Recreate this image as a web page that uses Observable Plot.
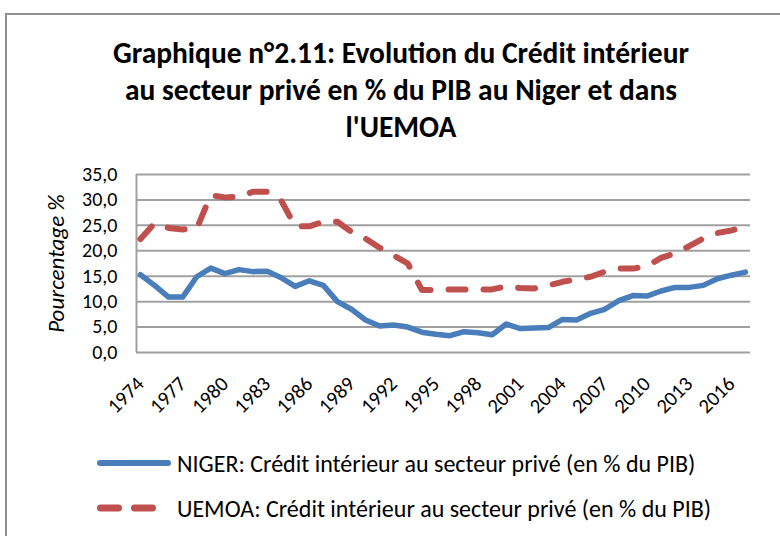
<!DOCTYPE html>
<html>
<head>
<meta charset="utf-8">
<script src="https://cdn.jsdelivr.net/npm/d3@7"></script>
<script src="https://cdn.jsdelivr.net/npm/@observablehq/plot@0.6"></script>
<style>
  html, body { margin:0; padding:0; background:#fff; width:780px; height:536px; overflow:hidden; }
  body { position:relative; font-family: Carlito, Lato, "Liberation Sans", sans-serif; color:#000; }
  #frame { position:absolute; left:5px; top:13px; width:820px; height:600px; border:2px solid #8e8e8e; box-sizing:border-box; }
  #title { position:absolute; left:11px; top:35px; width:780px; text-align:center; font-weight:bold; font-size:29.5px; line-height:37px; }
  #chart { position:absolute; left:0; top:160px; }
  .leg { position:absolute; left:94px; height:30px; display:flex; align-items:center; font-size:24px; white-space:nowrap; }
  .leg svg { margin-right:3px; }
</style>
</head>
<body>
<div id="frame"></div>
<div id="title">Graphique n°2.11: Evolution du Crédit intérieur<br>au secteur privé en % du PIB au Niger et dans<br>l'UEMOA</div>
<div id="chart"></div>
<div class="leg" style="top:448px;"><svg width="80" height="12"><line x1="6" y1="6" x2="74" y2="6" stroke="#4a7ebb" stroke-width="6" stroke-linecap="round"/></svg><span id="leg1"></span></div>
<div class="leg" style="top:493px;"><svg width="80" height="12"><line x1="6.5" y1="6" x2="59.5" y2="6" stroke="#c0504d" stroke-width="7" stroke-linecap="round" stroke-dasharray="18,16"/></svg><span id="leg2"></span></div>
<script>
const years = d3.range(1974, 2018);
const niger = [15.3, 13.2, 10.9, 10.9, 14.9, 16.6, 15.5, 16.3, 15.9, 16.0,
               14.7, 13.0, 14.1, 13.2, 10.0, 8.5, 6.4, 5.2, 5.4, 5.0,
               4.0, 3.6, 3.3, 4.1, 3.9, 3.5, 5.6, 4.7, 4.8, 4.9,
               6.5, 6.4, 7.7, 8.5, 10.2, 11.2, 11.1, 12.1, 12.8, 12.8,
               13.2, 14.5, 15.2, 15.8];
const uemoa = [22.3, 25.4, 24.5, 24.2, 24.4, 30.9, 30.5, 30.6, 31.6, 31.6,
               29.9, 24.8, 24.8, 25.7, 25.7, 23.7, 22.4, 20.6, 19.1, 17.5,
               12.3, 12.3, 12.4, 12.4, 12.4, 12.4, 13.0, 12.7, 12.6, 13.2,
               13.9, 14.4, 14.9, 15.9, 16.5, 16.5, 17.0, 18.6, 19.5, 20.9,
               22.4, 23.5, 24.0, 24.7];
const xTicks = d3.range(1974, 2017, 3);
const yTicks = [0, 5, 10, 15, 20, 25, 30, 35];
const seriesNames = ["NIGER: Crédit intérieur au secteur privé (en % du PIB)",
                     "UEMOA: Crédit intérieur au secteur privé (en % du PIB)"];
const yLabel = "Pourcentage %";

document.getElementById("leg1").textContent = seriesNames[0];
document.getElementById("leg2").textContent = seriesNames[1];

const data = years.map((y, i) => ({year: y, niger: niger[i], uemoa: uemoa[i]}));
const xDomain = [1973.72, 2017.36];
const font = "Carlito, Lato, 'Liberation Sans', sans-serif";

const chart = Plot.plot({
  width: 780,
  height: 262,
  marginLeft: 136,
  marginRight: 30,
  marginTop: 14,
  marginBottom: 70,
  style: {fontFamily: font, fontSize: "20px", color: "#000", background: "transparent", overflow: "visible"},
  x: {domain: xDomain},
  y: {domain: [0, 35]},
  marks: [
    Plot.gridY(yTicks, {stroke: "#a0a0a0", strokeOpacity: 1, strokeWidth: 2}),
    Plot.ruleX([xDomain[0]], {stroke: "#a0a0a0", strokeWidth: 2}),
    Plot.axisY(yTicks, {tickSize: 0, tickPadding: 19, fontSize: 20, label: null,
      tickFormat: d => d.toFixed(1).replace(".", ",")}),
    Plot.axisX(xTicks, {tickSize: 0, tickPadding: 28, tickRotate: -45, fontSize: 20.5, label: null,
      tickFormat: d => String(d)}),
    Plot.text([yLabel], {frameAnchor: "left", dx: -80, rotate: -90, fontSize: 23, fontStyle: "italic", textAnchor: "middle"}),
    Plot.line(data, {x: "year", y: "uemoa", stroke: "#c0504d", strokeWidth: 6,
      strokeDasharray: "17,18", strokeLinecap: "round", strokeLinejoin: "round"}),
    Plot.line(data, {x: "year", y: "niger", stroke: "#4a7ebb", strokeWidth: 5.5,
      strokeLinecap: "round", strokeLinejoin: "round"})
  ]
});
document.getElementById("chart").appendChild(chart);
</script>
</body>
</html>
